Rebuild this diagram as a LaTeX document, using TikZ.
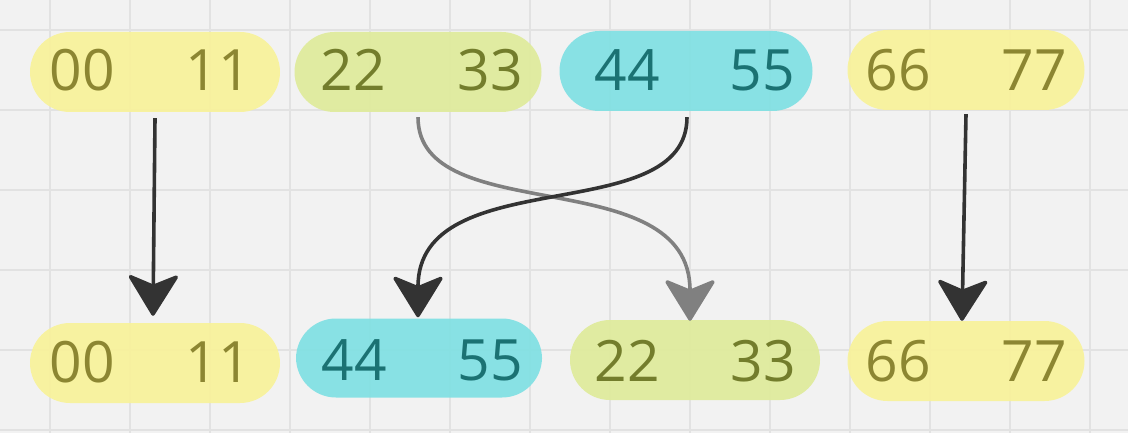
\documentclass[tikz,border=0pt]{standalone}
\usepackage{fontspec}
\setmainfont{Open Sans}
\usetikzlibrary{arrows.meta}
\definecolor{bg}{HTML}{F2F2F2}
\definecolor{gridc}{HTML}{E2E2E2}
\definecolor{yel}{HTML}{F8F29A}
\definecolor{yeltx}{HTML}{8C8632}
\definecolor{grn}{HTML}{DFEB9B}
\definecolor{grntx}{HTML}{737D2C}
\definecolor{cyn}{HTML}{80E0E3}
\definecolor{cyntx}{HTML}{1B7273}
\definecolor{dark}{HTML}{333333}
\definecolor{midgray}{HTML}{808080}
\tikzset{
  pill/.style={rectangle, rounded corners=40pt, minimum height=80pt, inner sep=0pt, fill opacity=0.92, draw=none},
  ypill/.style={pill, fill=yel},
  gpill/.style={pill, fill=grn},
  cpill/.style={pill, fill=cyn},
  num/.style={inner sep=0pt, font=\fontsize{57}{60}\selectfont},
  ynum/.style={num, text=yeltx},
  gnum/.style={num, text=grntx},
  cnum/.style={num, text=cyntx},
  arr/.style={line width=3.6pt, -{Stealth[width=54pt,length=44pt,inset=11pt,round]}},
}
\begin{document}
\begin{tikzpicture}[x=1pt,y=-1pt]
\fill[bg] (0,0) rectangle (1128,433);
\useasboundingbox (0,0) rectangle (1128,433);
\foreach \gx in {50,130,...,1090} \draw[gridc, line width=1.5pt] (\gx,0) -- (\gx,433);
\foreach \gy in {30,110,...,430} \draw[gridc, line width=1.5pt] (0,\gy) -- (1128,\gy);
% top row
\node[ypill, minimum width=250pt] (tA) at (155,72) {};
\node[gpill, minimum width=247pt] (tB) at (418,72) {};
\node[cpill, minimum width=253pt] (tC) at (686,71) {};
\node[ypill, minimum width=237pt] (tD) at (966,70) {};
% bottom row
\node[ypill, minimum width=250pt] (bA) at (155,363) {};
\node[cpill, minimum width=246pt, minimum height=79pt] (bC) at (419,358) {};
\node[gpill, minimum width=250pt] (bB) at (695,360) {};
\node[ypill, minimum width=237pt] (bD) at (966,361) {};
% texts top
\node[ynum] (t00) at (82,70) {00};
\node[ynum] (t11) at (218,70) {11};
\node[gnum] (t22) at (353,70) {22};
\node[gnum] (t33) at (490,70) {33};
\node[cnum] (t44) at (627,70) {44};
\node[cnum] (t55) at (762,70) {55};
\node[ynum] (t66) at (898,70) {66};
\node[ynum] (t77) at (1034,70) {77};
% texts bottom
\node[ynum] (b00) at (82,362) {00};
\node[ynum] (b11) at (218,362) {11};
\node[cnum] (b44) at (354,360) {44};
\node[cnum] (b55) at (490,360) {55};
\node[gnum] (b22) at (627,361) {22};
\node[gnum] (b33) at (763,361) {33};
\node[ynum] (b66) at (898,361) {66};
\node[ynum] (b77) at (1034,361) {77};
% arrows
\draw[arr, dark] ([yshift=-6pt]tA.south) -- ([xshift=-2pt,yshift=7pt]bA.north);
\draw[arr, dark] ([yshift=-4pt]tD.south) -- ([xshift=-4pt,yshift=0pt]bD.north);
\draw[arr, midgray] ([yshift=-5pt]tB.south) .. controls (418,230) and (690,160) .. ([xshift=-5pt,yshift=-1pt]bB.north);
\draw[arr, dark] ([xshift=1pt,yshift=-6pt]tC.south) .. controls (687,230) and (418,160) .. ([xshift=-1pt,yshift=1pt]bC.north);
\end{tikzpicture}
\end{document}
